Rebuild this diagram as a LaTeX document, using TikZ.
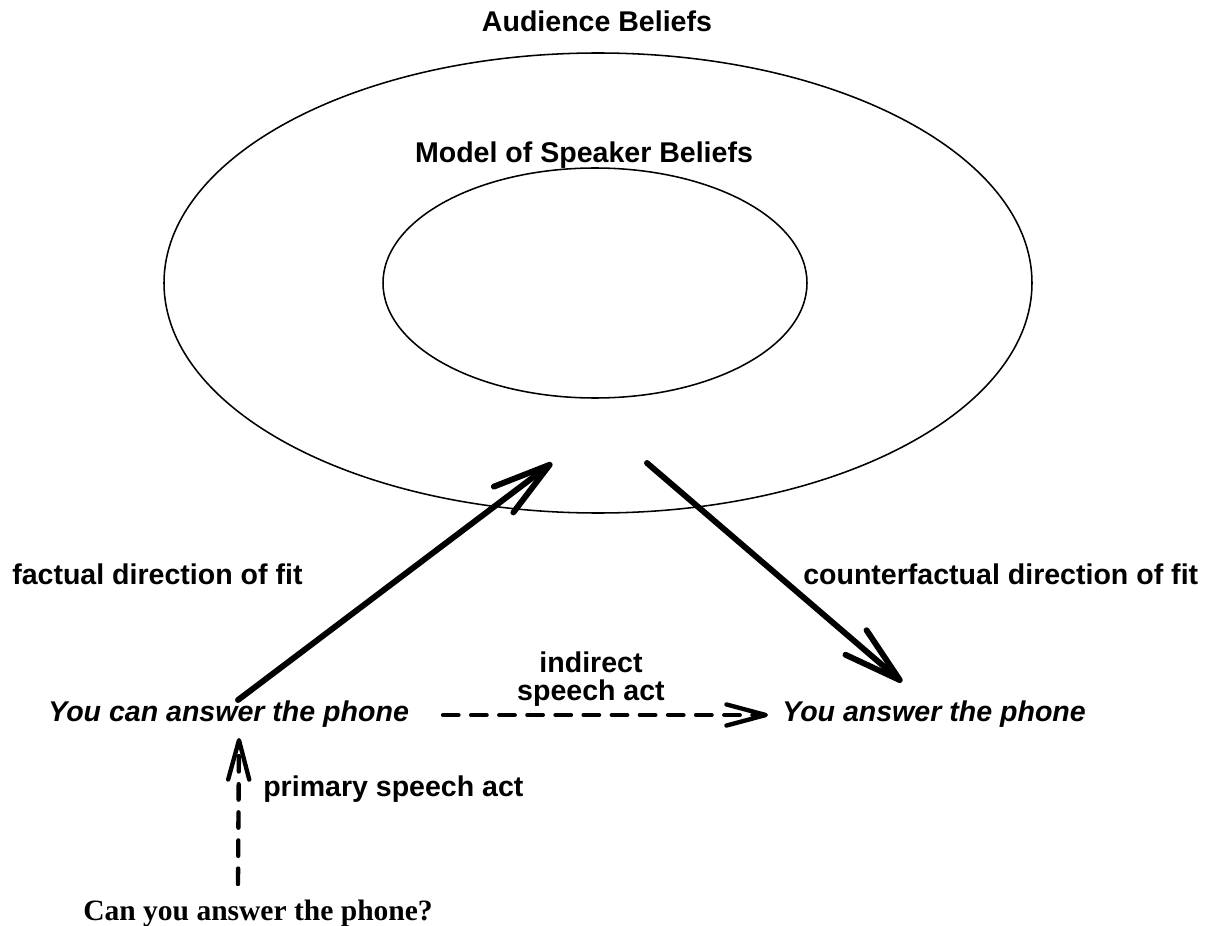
\documentclass[tikz,border=0pt]{standalone}
\usepackage{fontspec}
\setmainfont{Liberation Serif}
\setsansfont{Liberation Sans}
\usetikzlibrary{arrows.meta, positioning}

\begin{document}
\begin{tikzpicture}[
    x=0.025cm, y=-0.025cm,
    lbl/.style={font=\sffamily\bfseries\fontsize{20.3}{24}\selectfont, inner sep=0pt, anchor=base},
    sentence/.style={font=\sffamily\bfseries\itshape\fontsize{20.3}{24}\selectfont, inner sep=0pt, anchor=base west},
    belief/.style={line width=1.1pt},
    fitarrow/.style={-{Straight Barb[length=41pt, width=23pt, line cap=round, line join=round]}, line width=4.2pt, line cap=round},
    actarrow/.style={-{Straight Barb[length=28pt, width=15pt, line cap=round, line join=round]}, line width=3.1pt, line cap=round, dash pattern=on 11pt off 9pt}
]
    \useasboundingbox (0,0) rectangle (1217,926);

    % belief spaces
    \draw[belief] (598,283) ellipse [x radius=434, y radius=230];
    \draw[belief] (595,283) ellipse [x radius=212, y radius=115];
    \node[lbl] (audience) at (597,32) {Audience Beliefs};
    \node[lbl] (speaker) at (584,163) {Model of Speaker Beliefs};

    % the utterances
    \node[sentence] (canans) at (48,721) {You can answer the phone};
    \node[sentence] (ans) at (782,721) {You answer the phone};
    \node[font=\rmfamily\bfseries\fontsize{21}{25}\selectfont, inner sep=0pt, anchor=base west] (question) at (83,920) {Can you answer the phone?};

    \coordinate (fitfrom) at (238,700);
    \coordinate (fitto) at (552,463);
    \coordinate (cfitfrom) at (647,463);
    \coordinate (cfitto) at (902,682);
    \coordinate (indfrom) at (443,715);
    \coordinate (indto) at (768,715);
    \coordinate (primfrom) at (238,884);
    \coordinate (primto) at (239,738);

    % directions of fit
    \draw[fitarrow] (fitfrom) -- (fitto);
    \draw[fitarrow] (cfitfrom) -- (cfitto);
    \node[lbl, anchor=base west] (factual) at (12,584) {factual direction of fit};
    \node[lbl, anchor=base west] (counter) at (803,584) {counterfactual direction of fit};

    % speech acts
    \draw[actarrow] (indfrom) -- (indto);
    \draw[actarrow] (primfrom) -- (primto);
    \node[lbl] (indirect) at (591,672) {indirect};
    \node[lbl] (indirect2) at (591,700) {speech act};
    \node[lbl, anchor=base west] (primary) at (263,796) {primary speech act};
\end{tikzpicture}
\end{document}
